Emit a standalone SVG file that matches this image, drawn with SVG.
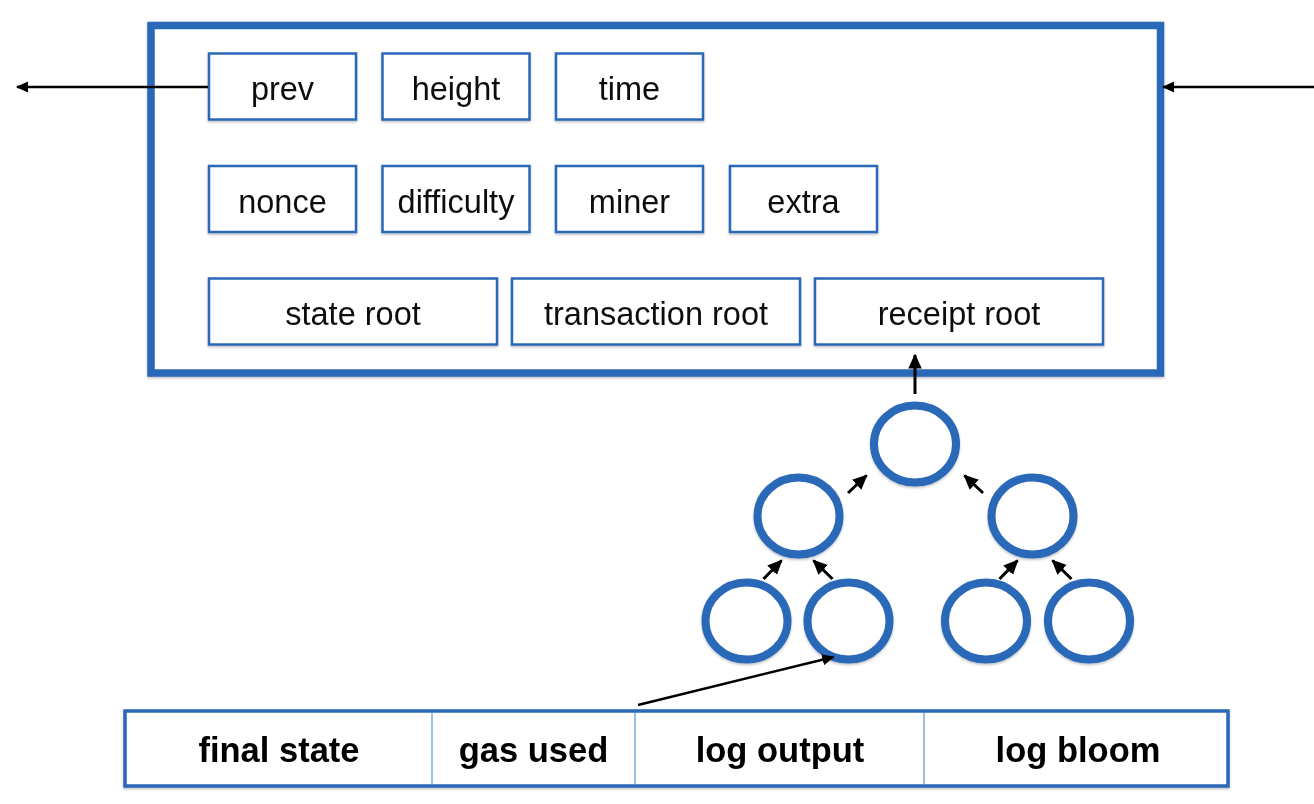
<svg xmlns="http://www.w3.org/2000/svg" width="1314" height="804" viewBox="0 0 1314 804">
<style>
.frame{fill:#fff;stroke:#2a67b8;stroke-width:7.5}
.box{fill:#fff;stroke:#2a67b8;stroke-width:2.5}
.lbl{font-family:"Liberation Sans",Arial,sans-serif;font-size:32.5px;fill:#111;text-anchor:middle}
.blbl{font-family:"Liberation Sans",Arial,sans-serif;font-size:34.5px;font-weight:bold;fill:#000;text-anchor:middle}
.node{fill:#fff;stroke:#2a67b8;stroke-width:8}
.tbl{fill:#fff;stroke:#2a67b8;stroke-width:3.5}
.div{stroke:#7ea9d8;stroke-width:1.5}
.conn{stroke:#000;stroke-width:2.5;fill:none;marker-end:url(#ah)}
.tconn{stroke:#000;stroke-width:3;fill:none;marker-end:url(#ah)}
</style>
<defs>
<marker id="ah" viewBox="0 0 10 10" refX="9" refY="5" markerWidth="5" markerHeight="5" orient="auto" markerUnits="strokeWidth">
<path d="M0,0.5 L10,5 L0,9.5 z" fill="#000"/>
</marker>
<filter id="sh" x="-10%" y="-10%" width="120%" height="130%">
<feDropShadow dx="0" dy="1.5" stdDeviation="1" flood-color="#000" flood-opacity="0.25"/>
</filter>
</defs>
<rect width="1314" height="804" fill="#fff"/>

<g id="header" filter="url(#sh)">
<rect class="frame" x="151" y="25.5" width="1009.5" height="347.5"/>
</g>
<g id="prev" filter="url(#sh)"><rect class="box" x="209" y="53.5" width="147" height="66"/><text class="lbl" x="282.5" y="100">prev</text></g>
<g id="height" filter="url(#sh)"><rect class="box" x="382.5" y="53.5" width="147" height="66"/><text class="lbl" x="456" y="100">height</text></g>
<g id="time" filter="url(#sh)"><rect class="box" x="556" y="53.5" width="147" height="66"/><text class="lbl" x="629.5" y="100">time</text></g>
<g id="nonce" filter="url(#sh)"><rect class="box" x="209" y="166" width="147" height="66"/><text class="lbl" x="282.5" y="212.5">nonce</text></g>
<g id="difficulty" filter="url(#sh)"><rect class="box" x="382.5" y="166" width="147" height="66"/><text class="lbl" x="456" y="212.5">difficulty</text></g>
<g id="miner" filter="url(#sh)"><rect class="box" x="556" y="166" width="147" height="66"/><text class="lbl" x="629.5" y="212.5">miner</text></g>
<g id="extra" filter="url(#sh)"><rect class="box" x="730" y="166" width="147" height="66"/><text class="lbl" x="803.5" y="212.5">extra</text></g>
<g id="state-root" filter="url(#sh)"><rect class="box" x="209" y="278.5" width="288" height="66"/><text class="lbl" x="353" y="325">state root</text></g>
<g id="transaction-root" filter="url(#sh)"><rect class="box" x="512" y="278.5" width="288" height="66"/><text class="lbl" x="656" y="325">transaction root</text></g>
<g id="receipt-root" filter="url(#sh)"><rect class="box" x="815" y="278.5" width="288" height="66"/><text class="lbl" x="959" y="325">receipt root</text></g>

<g id="tree-root" filter="url(#sh)"><ellipse class="node" cx="915" cy="444" rx="41" ry="38.5"/></g>
<g id="tree-l" filter="url(#sh)"><ellipse class="node" cx="798.5" cy="516" rx="41" ry="38.5"/></g>
<g id="tree-r" filter="url(#sh)"><ellipse class="node" cx="1032.5" cy="516" rx="41" ry="38.5"/></g>
<g id="tree-ll" filter="url(#sh)"><ellipse class="node" cx="746.5" cy="621" rx="41" ry="38.5"/></g>
<g id="tree-lr" filter="url(#sh)"><ellipse class="node" cx="848.5" cy="621" rx="41" ry="38.5"/></g>
<g id="tree-rl" filter="url(#sh)"><ellipse class="node" cx="986" cy="621" rx="41" ry="38.5"/></g>
<g id="tree-rr" filter="url(#sh)"><ellipse class="node" cx="1089" cy="621" rx="41" ry="38.5"/></g>

<g id="receipt" filter="url(#sh)">
<rect class="tbl" x="125" y="711" width="1103" height="75"/>
<line class="div" x1="432" y1="713" x2="432" y2="784"/>
<line class="div" x1="635" y1="713" x2="635" y2="784"/>
<line class="div" x1="924" y1="713" x2="924" y2="784"/>
<text class="blbl" x="279" y="762">final state</text>
<text class="blbl" x="533.5" y="762">gas used</text>
<text class="blbl" x="780" y="762">log output</text>
<text class="blbl" x="1078" y="762">log bloom</text>
</g>

<g id="connectors">
<line class="conn" x1="208" y1="87" x2="17" y2="87"/>
<line class="conn" x1="1314" y1="87" x2="1163" y2="87"/>
<line class="tconn" x1="915" y1="394" x2="915" y2="355"/>
<line class="tconn" x1="848" y1="493" x2="866.5" y2="475.5"/>
<line class="tconn" x1="983" y1="493" x2="964.5" y2="475.5"/>
<line class="tconn" x1="763.5" y1="579" x2="781.5" y2="560.5"/>
<line class="tconn" x1="832.5" y1="579" x2="813.5" y2="560.5"/>
<line class="tconn" x1="999.5" y1="579" x2="1017.5" y2="560.5"/>
<line class="tconn" x1="1071.5" y1="579" x2="1052.5" y2="560.5"/>
<line class="conn" x1="638" y1="705" x2="833.5" y2="657"/>
</g>
</svg>
